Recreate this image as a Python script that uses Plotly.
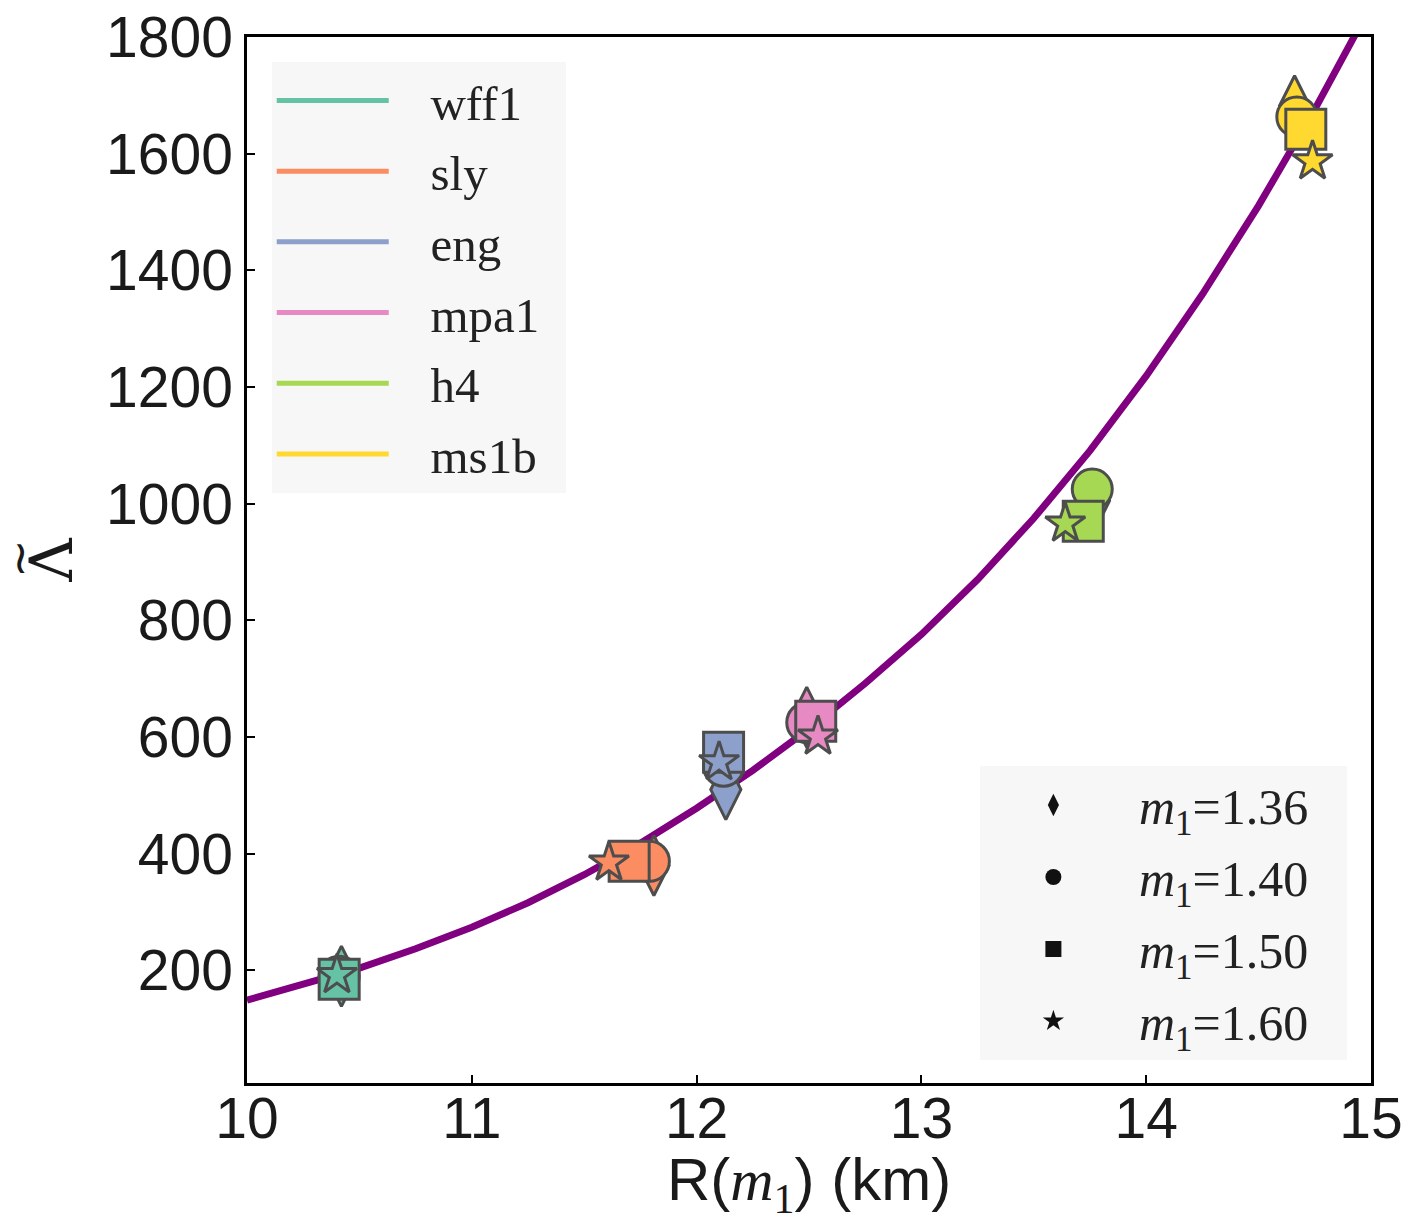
import plotly.graph_objects as go

# ---- data ----
eos_names = ["wff1", "sly", "eng", "mpa1", "h4", "ms1b"]
eos_colors = ["#66c2a5", "#fc8d62", "#8da0cb", "#e78ac3", "#a6d854", "#ffd92f"]

mass_labels = ["1.36", "1.40", "1.50", "1.60"]
mass_symbols = ["diamond-tall", "circle", "square", "star"]
mass_sizes = [43, 40, 40, 30]

R_136 = [10.42, 11.81, 12.13, 12.49, 13.77, 14.66]
L_136 = [190, 380, 510, 634, 1005, 1682]
R_140 = [10.41, 11.79, 12.12, 12.49, 13.76, 14.67]
L_140 = [190, 387, 550, 625, 1025, 1663]
R_150 = [10.41, 11.70, 12.12, 12.53, 13.72, 14.71]
L_150 = [185, 387, 574, 627, 970, 1642]
R_160 = [10.40, 11.61, 12.10, 12.54, 13.64, 14.74]
L_160 = [192, 385, 557, 601, 966, 1587]

fit_R = [10.0, 10.25, 10.5, 10.75, 11.0, 11.25, 11.5, 11.75, 12.0, 12.25, 12.5,
         12.75, 13.0, 13.25, 13.5, 13.75, 14.0, 14.25, 14.5, 14.75, 15.0]
fit_L = [149, 175, 204, 237, 274, 316, 364, 418, 478, 543, 614,
         692, 776, 870, 975, 1091, 1219, 1359, 1511, 1676, 1854]

x_ticks = [10, 11, 12, 13, 14, 15]
y_ticks = [200, 400, 600, 800, 1000, 1200, 1400, 1600, 1800]

R_sets = [R_136, R_140, R_150, R_160]
L_sets = [L_136, L_140, L_150, L_160]

NB = "\u00a0"
SP6 = "\u2006"

fig = go.Figure()

# fitted curve
fig.add_trace(go.Scatter(x=fit_R, y=fit_L, mode="lines",
                         line=dict(color="#800080", width=7),
                         showlegend=False, hoverinfo="skip"))

# markers: for each EOS, draw diamond, circle, square, star in order
for i, name in enumerate(eos_names):
    for k in range(4):
        fig.add_trace(go.Scatter(
            x=[R_sets[k][i]], y=[L_sets[k][i]], mode="markers",
            marker=dict(symbol=mass_symbols[k], size=mass_sizes[k],
                        color=eos_colors[i],
                        line=dict(color="#4d4d4d", width=3)),
            showlegend=False))

# EOS legend (lines)
for i, name in enumerate(eos_names):
    fig.add_trace(go.Scatter(
        x=[None], y=[None], mode="lines", name=NB * 3 + name + NB + SP6,
        line=dict(color=eos_colors[i], width=5),
        legend="legend", legendgroup=name))

# mass legend (black markers)
for k in range(4):
    fig.add_trace(go.Scatter(
        x=[None], y=[None], mode="markers",
        name=NB + "<i>m</i><sub>1</sub>=" + mass_labels[k] + NB * 2 + SP6,
        marker=dict(symbol=mass_symbols[k], size=30, color="#111111"),
        legend="legend2", legendgroup="m" + mass_labels[k]))

axis_common = dict(
    showline=True, linecolor="black", linewidth=2.5, mirror=True,
    ticks="inside", ticklen=8, tickwidth=1.5, tickcolor="black",
    showgrid=False, zeroline=False, automargin=False,
    tickfont=dict(family="Liberation Sans, Arial, sans-serif", size=57, color="#1a1a1a"),
)

fig.update_layout(
    width=1410, height=1222,
    margin=dict(l=247, r=39, t=37, b=139),
    plot_bgcolor="white", paper_bgcolor="white",
    xaxis=dict(range=[10, 15], tickvals=x_ticks, ticklabelstandoff=-16,
               title=dict(text="R(<span style='font-family:Liberation Serif'><i>m</i><sub>1</sub></span>) (km)",
                          font=dict(family="Liberation Sans, Arial, sans-serif", size=60, color="#1a1a1a"),
                          standoff=23),
               **axis_common),
    yaxis=dict(range=[7, 1800], tickvals=y_ticks,
               title=dict(text="Λ",
                          font=dict(family="DejaVu Serif, serif", size=60, color="#1a1a1a"),
                          standoff=15),
               **axis_common),
    annotations=[dict(text="≀", xref="paper", yref="paper", x=-0.2017, y=0.503,
                      xanchor="center", yanchor="middle",
                      showarrow=False,
                      font=dict(family="DejaVu Sans, sans-serif", size=46, color="#1a1a1a"))],
    legend=dict(x=0.022, y=0.976, xanchor="left", yanchor="top",
                bgcolor="#f7f7f7", borderwidth=0,
                font=dict(family="Liberation Serif, serif", size=49, color="#222222"),
                itemwidth=112, traceorder="grouped", tracegroupgap=4),
    legend2=dict(x=0.979, y=0.022, xanchor="right", yanchor="bottom",
                 bgcolor="#f7f7f7", borderwidth=0,
                 font=dict(family="Liberation Serif, serif", size=50, color="#222222"),
                 itemwidth=136, traceorder="grouped", tracegroupgap=4),
)

fig.write_html("out.html")
